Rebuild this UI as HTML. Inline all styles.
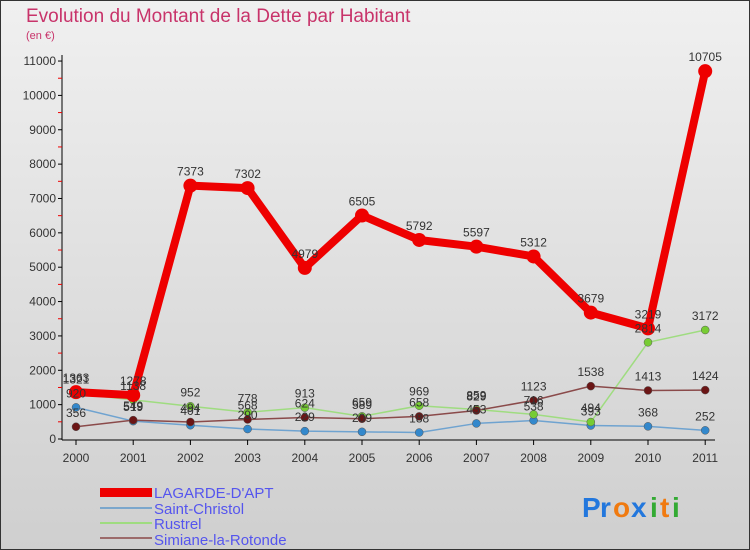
<!DOCTYPE html>
<html><head><meta charset="utf-8"><style>
body{margin:0;width:750px;height:550px;overflow:hidden;font-family:"Liberation Sans",sans-serif}
svg{display:block}
</style></head><body>
<svg id="chart" width="750" height="550" xmlns="http://www.w3.org/2000/svg">
<defs><linearGradient id="bg" x1="0" y1="0" x2="0" y2="1"><stop offset="0" stop-color="#f0f0f0"/><stop offset="1" stop-color="#cfcfcf"/></linearGradient></defs>
<rect x="0.5" y="0.5" width="749" height="549" fill="url(#bg)" stroke="#333"/>
<text x="26" y="22" font-size="19" fill="#c8336a">Evolution du Montant de la Dette par Habitant</text>
<text x="26" y="39" font-size="11" fill="#c8336a">(en €)</text>
<g id="axes"></g><g id="series"></g><g id="labels"></g>
<g font-size="15" fill="#5555ee">
<rect x="100" y="488" width="52" height="9" fill="#e00"/>
<text x="154" y="498">LAGARDE-D'APT</text>
<line x1="100" y1="508" x2="152" y2="508" stroke="#7ba7cc" stroke-width="2"/>
<text x="154" y="514">Saint-Christol</text>
<line x1="100" y1="523" x2="152" y2="523" stroke="#9fdc80" stroke-width="2"/>
<text x="154" y="529">Rustrel</text>
<line x1="100" y1="538" x2="152" y2="538" stroke="#9c6b6b" stroke-width="2"/>
<text x="154" y="545">Simiane-la-Rotonde</text>
</g>
<g font-size="28" font-weight="bold">
<text x="582" y="517" fill="#2277dd">P</text><text x="600" y="517" fill="#2277dd">r</text><text x="613" y="517" fill="#f07a10">o</text><text x="631" y="517" fill="#2277dd">x</text><text x="650" y="517" fill="#33aa33">i</text><text x="660" y="517" fill="#f07a10">t</text><text x="672" y="517" fill="#33aa33">i</text>
</g>
</svg>
<script>
const years=["2000","2001","2002","2003","2004","2005","2006","2007","2008","2009","2010","2011"];
const lagarde=[1363,1278,7373,7302,4979,6505,5792,5597,5312,3679,3219,10705];
const saintChristol=[920,519,401,290,229,209,188,453,538,393,368,252];
const rustrel=[1321,1138,952,778,913,659,969,859,716,494,2814,3172];
const simiane=[356,549,494,568,624,589,658,829,1123,1538,1413,1424];
const yTicks=[0,1000,2000,3000,4000,5000,6000,7000,8000,9000,10000,11000];
const NS="http://www.w3.org/2000/svg";
const X=i=>76+i*57.2, Y=v=>439-v*0.03436;
function mk(tag,attrs,parent){const e=document.createElementNS(NS,tag);for(const k in attrs)e.setAttribute(k,attrs[k]);parent.appendChild(e);return e;}
const axes=document.getElementById('axes'),ser=document.getElementById('series'),lab=document.getElementById('labels');
let a=mk('line',{x1:62,y1:55,x2:62,y2:440,stroke:'#000'},axes);


a=mk('line',{x1:62,y1:440,x2:715,y2:440,stroke:'#000'},axes);


yTicks.forEach(v=>{
  mk('line',{x1:58,y1:Y(v),x2:62,y2:Y(v),stroke:'#000'},axes);
  if(v<11000) mk('line',{x1:58,y1:Y(v+500),x2:62,y2:Y(v+500),stroke:'#e00'},axes);
  const t=mk('text',{x:56,y:Y(v)+4,'text-anchor':'end','font-size':12,fill:'#333'},axes);
  t.textContent=v;
  
  
});
years.forEach((y,i)=>{
  mk('line',{x1:X(i),y1:440,x2:X(i),y2:445,stroke:'#000'},axes);
  const t=mk('text',{x:X(i),y:462,'text-anchor':'middle','font-size':12,fill:'#333'},axes);
  t.textContent=y;
  
  
});
function draw(data,name,color,w,r,fill){
  const p=mk('polyline',{points:data.map((v,i)=>X(i)+','+Y(v)).join(' '),fill:'none',stroke:color,'stroke-width':w,'stroke-linejoin':'round'},ser);
  
  
  data.forEach((v,i)=>{
    const c=mk('circle',{cx:X(i),cy:Y(v),r:r,fill:fill,stroke:color==='#e00'?'#e00':'#555','stroke-width':color==='#e00'?0:0.5},ser);
    
    
    const t=mk('text',{x:X(i),y:Y(v)-10,'text-anchor':'middle','font-size':12,fill:'#333'},lab);
    t.textContent=v;
    
    
  });
}
draw(saintChristol,'saint-christol','#6fa3d0',1.5,4,'#3388cc');
draw(rustrel,'rustrel','#9fdc80',1.5,4,'#77cc33');
draw(simiane,'simiane','#8a4a4a',1.5,4,'#6b1515');
draw(lagarde,'lagarde','#e00',8,7,'#e00');
</script>
</body></html>
